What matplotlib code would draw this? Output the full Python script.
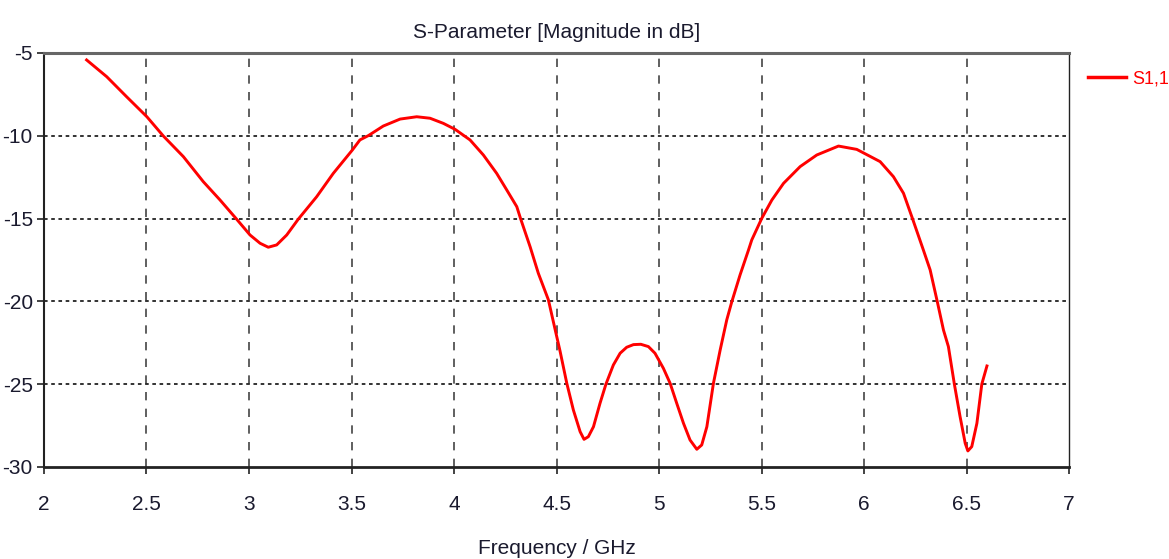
import numpy as np
import matplotlib
matplotlib.use("Agg")
import matplotlib.pyplot as plt

plt.rcParams["font.family"] = ["Liberation Sans", "DejaVu Sans"]
plt.rcParams["axes.unicode_minus"] = False

# S1,1 (frequency in GHz, magnitude in dB)
freq = [2.208, 2.306, 2.403, 2.502, 2.582, 2.68, 2.777, 2.859, 2.94, 3.005, 3.054, 3.094,
        3.135, 3.184, 3.24, 3.33, 3.411, 3.504, 3.541, 3.582, 3.655, 3.737, 3.818, 3.883,
        3.948, 4.005, 4.078, 4.143, 4.208, 4.257, 4.306, 4.325, 4.371, 4.411, 4.46, 4.493,
        4.517, 4.55, 4.582, 4.615, 4.634, 4.655, 4.68, 4.712, 4.741, 4.777, 4.81, 4.842,
        4.875, 4.911, 4.948, 4.98, 5.021, 5.054, 5.086, 5.119, 5.151, 5.184, 5.208, 5.233,
        5.265, 5.298, 5.33, 5.354, 5.395, 5.436, 5.452, 5.501, 5.55, 5.607, 5.688, 5.769,
        5.875, 5.964, 6.078, 6.143, 6.192, 6.237, 6.289, 6.322, 6.358, 6.387, 6.411, 6.44,
        6.468, 6.493, 6.506, 6.525, 6.55, 6.574, 6.599]
s11 = [-5.42, -6.43, -7.64, -8.85, -10.01, -11.26, -12.77, -13.88, -15.04, -15.99, -16.49,
       -16.73, -16.59, -15.99, -15.04, -13.68, -12.27, -10.86, -10.25, -9.99, -9.41, -8.99,
       -8.85, -8.94, -9.25, -9.61, -10.25, -11.16, -12.27, -13.27, -14.28, -15.02, -16.7,
       -18.3, -19.9, -21.7, -23.0, -24.95, -26.56, -27.87, -28.33, -28.17, -27.57, -26.15,
       -24.99, -23.84, -23.13, -22.77, -22.61, -22.59, -22.73, -23.13, -24.04, -24.95,
       -26.15, -27.36, -28.37, -28.93, -28.67, -27.57, -24.95, -22.93, -21.12, -20.05,
       -18.4, -16.9, -16.29, -14.98, -13.88, -12.87, -11.86, -11.16, -10.62, -10.82, -11.56,
       -12.47, -13.47, -15.04, -16.9, -18.1, -20.08, -21.73, -22.73, -24.99, -26.96, -28.57,
       -29.03, -28.77, -27.36, -24.99, -23.9]

xticks = [2, 2.5, 3, 3.5, 4, 4.5, 5, 5.5, 6, 6.5, 7]
xticklabels = ["2", "2.5", "3", "3.5", "4", "4.5", "5", "5.5", "6", "6.5", "7"]
yticks = [-30, -25, -20, -15, -10, -5]

fig = plt.figure(figsize=(11.69, 5.59), dpi=100)
ax = fig.add_axes([0.0376, 0.1646, 0.877, 0.7406])

ax.plot(freq, s11, color="#ff0000", linewidth=2.1, label="S1,1")

ax.set_xlim(2, 7)
ax.set_ylim(-30, -5)
ax.set_xticks(xticks)
ax.set_xticklabels(xticklabels)
ax.set_yticks(yticks)

# grid: dashed verticals, dotted horizontals
for x in xticks[1:-1]:
    ax.axvline(x, color="#444444", linewidth=1.2, linestyle=(0, (5, 5)), zorder=0)
for y in yticks[1:-1]:
    ax.axhline(y, color="#222222", linewidth=1.3, linestyle=(0, (2, 2)), zorder=0)

ax.tick_params(direction="out", length=5, width=1.2, colors="#222222",
               labelsize=15, labelcolor="#1a1a2e")
ax.tick_params(axis="x", pad=15)
ax.tick_params(axis="y", pad=3)
for side in ["left", "bottom", "right"]:
    ax.spines[side].set_color("#222222")
ax.spines["left"].set_linewidth(1.5)
ax.spines["bottom"].set_linewidth(2.0)
ax.spines["right"].set_linewidth(1.0)
ax.spines["top"].set_color("#666666")
ax.spines["top"].set_linewidth(2.2)

ax.set_title("S-Parameter [Magnitude in dB]", fontsize=15, color="#1a1a2e", pad=11)
ax.set_xlabel("Frequency / GHz", fontsize=15, color="#1a1a2e", labelpad=18)

leg = ax.legend(loc="center left", bbox_to_anchor=(1.0185, 0.937), frameon=False,
                handlelength=2.1, handletextpad=0.35, fontsize=13, labelcolor="#ff0000",
                borderaxespad=0, borderpad=0)
for h in leg.get_lines():
    h.set_linewidth(2.5)

fig.savefig("out.png", dpi=100)
